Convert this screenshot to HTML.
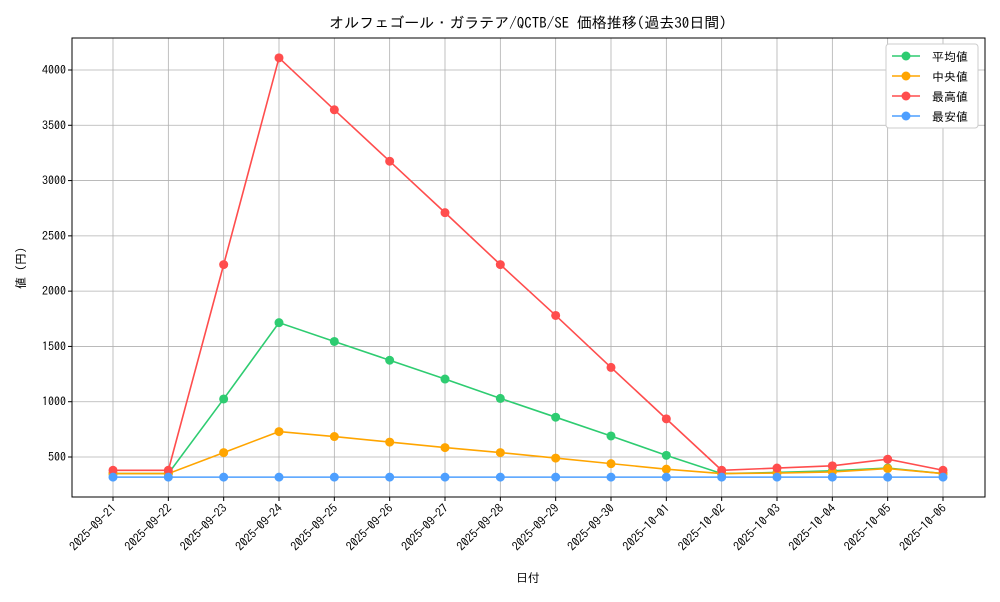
<!DOCTYPE html>
<html><head><meta charset="utf-8"><style>
body{margin:0;background:#fff;font-family:"IPAGothic","Noto Sans CJK JP",sans-serif}
</style></head><body>
<svg id="chart" width="1000" height="600" xmlns="http://www.w3.org/2000/svg" font-family="'IPAGothic','Noto Sans CJK JP',sans-serif"></svg>
<script>
const dates=["2025-09-21","2025-09-22","2025-09-23","2025-09-24","2025-09-25","2025-09-26","2025-09-27","2025-09-28","2025-09-29","2025-09-30","2025-10-01","2025-10-02","2025-10-03","2025-10-04","2025-10-05","2025-10-06"];
const avgVals=[350,350,1025,1715,1545,1375,1205,1030,860,690,515,350,360,375,400,350];
const medVals=[350,350,540,730,685,635,585,540,490,440,390,350,355,365,395,350];
const maxVals=[380,380,2240,4110,3640,3175,2710,2240,1780,1310,845,380,400,420,480,380];
const minVals=[318,318,318,318,318,318,318,318,318,318,318,318,318,318,318,318];
const yTicks=[500,1000,1500,2000,2500,3000,3500,4000];
const seriesNames=["平均値","中央値","最高値","最安値"];
const NS="http://www.w3.org/2000/svg";
const svg=document.getElementById('chart');
const L=72,R=985,T=38,B=497;
const x0=113,x1=943;
function xs(i){return x0+(x1-x0)*i/(dates.length-1);}
function ys(v){return 457-(v-500)*(387/3500);}
function el(t,a,p){const e=document.createElementNS(NS,t);for(const k in a)e.setAttribute(k,a[k]);(p||svg).appendChild(e);return e;}
yTicks.forEach(v=>{const l=el('line',{x1:L,x2:R,y1:ys(v),y2:ys(v),stroke:'#b0b0b0','stroke-width':0.8});


const t=el('text',{x:L-6,y:ys(v)+4,'text-anchor':'end','font-size':12});t.textContent=v;


el('line',{x1:L-4,x2:L,y1:ys(v),y2:ys(v),stroke:'#000'});});
dates.forEach((d,i)=>{const l=el('line',{x1:xs(i),x2:xs(i),y1:T,y2:B,stroke:'#b0b0b0','stroke-width':0.8});


el('line',{x1:xs(i),x2:xs(i),y1:B,y2:B+4,stroke:'#000'});
const t=el('text',{x:xs(i)+4,y:B+12,'text-anchor':'end','font-size':12,transform:`rotate(-45 ${xs(i)+4} ${B+12})`});t.textContent=d;

});
const frame=el('rect',{x:L,y:T,width:R-L,height:B-T,fill:'none',stroke:'#000','stroke-width':1});


const series=[[avgVals,'#2ecc71'],[medVals,'#ffa500'],[maxVals,'#ff4d4d'],[minVals,'#4d9fff']];
series.forEach(([vals,c],si)=>{const g=el('g',{});


el('polyline',{points:vals.map((v,i)=>xs(i)+','+ys(v)).join(' '),fill:'none',stroke:c,'stroke-width':1.6},g);
vals.forEach((v,i)=>{const p=el('circle',{cx:xs(i),cy:ys(v),r:4.5,fill:c},g);

});});
const lg=el('g',{});


el('rect',{x:886,y:44,width:92,height:84,fill:'#fff',stroke:'#ccc',rx:3},lg);
series.forEach(([v,c],i)=>{const y=56+i*20;
el('line',{x1:892,x2:920,y1:y,y2:y,stroke:c,'stroke-width':1.6},lg);
el('circle',{cx:906,cy:y,r:4.5,fill:c},lg);
const t=el('text',{x:932,y:y+5,'font-size':12},lg);t.textContent=seriesNames[i];

});
const title=el('text',{x:528,y:28,'text-anchor':'middle','font-size':15});title.textContent='オルフェゴール・ガラテア/QCTB/SE 価格推移(過去30日間)';


const xt=el('text',{x:528,y:582,'text-anchor':'middle','font-size':12});xt.textContent='日付';


const yt=el('text',{x:25,y:268,'text-anchor':'middle','font-size':12,transform:'rotate(-90 25 268)'});yt.textContent='値 (円)';


</script>
</body></html>
